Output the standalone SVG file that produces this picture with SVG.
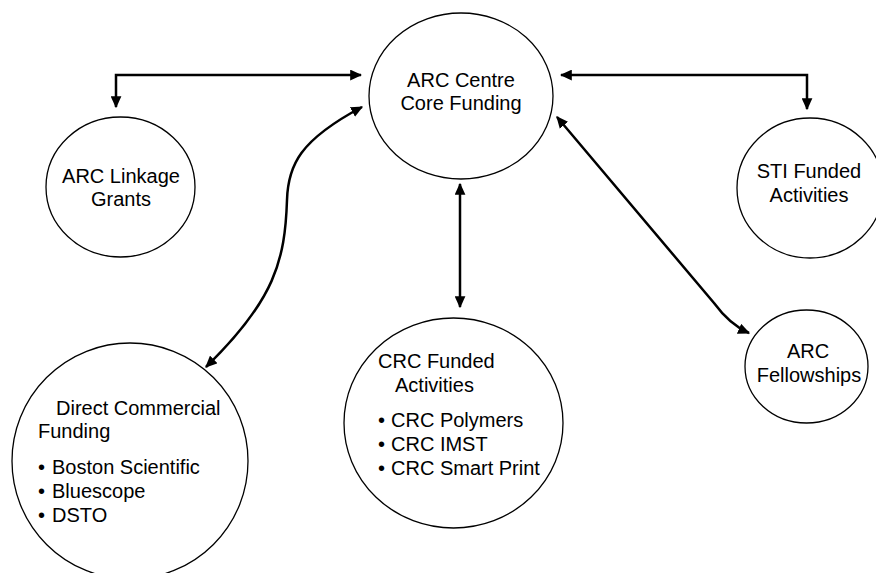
<svg xmlns="http://www.w3.org/2000/svg" width="876" height="573" viewBox="0 0 876 573">
<defs>
<style>
.node ellipse{fill:#fff;stroke:#000;stroke-width:1.3}
text{font-family:"Liberation Sans",Arial,sans-serif;font-size:20px;fill:#000}
.c{text-anchor:middle}
.conn path{fill:none;stroke:#000;stroke-width:2.5;marker-start:url(#ah);marker-end:url(#ah)}
</style>
<marker id="ah" viewBox="0 0 10 9" refX="9" refY="4.5" markerWidth="12" markerHeight="11" markerUnits="userSpaceOnUse" orient="auto-start-reverse">
<path d="M0,0 L10,4.5 L0,9 z" fill="#000"/>
</marker>
</defs>
<rect width="876" height="573" fill="#fff"/>
<g id="connectors" class="conn">
<path d="M361,75 L116,75 L116,107"/>
<path d="M561,75 L807,75 L807,109"/>
<path d="M362,107 C300,140 288,165 287,200 C285,260 275,300 206,367"/>
<path d="M460,184 L460,307"/>
<path d="M557,117 L714,303 C725,318 735,327 749,333"/>
</g>
<g id="arc-centre" class="node">
<ellipse cx="461" cy="96" rx="92" ry="83"/>
<text class="c" x="461" y="87">ARC Centre</text>
<text class="c" x="461" y="110">Core Funding</text>
</g>
<g id="arc-linkage" class="node">
<ellipse cx="120.5" cy="187" rx="74.5" ry="70"/>
<text class="c" x="121" y="183">ARC Linkage</text>
<text class="c" x="121" y="206">Grants</text>
</g>
<g id="sti" class="node">
<ellipse cx="810" cy="188" rx="73" ry="70"/>
<text class="c" x="809" y="178">STI Funded</text>
<text class="c" x="809" y="202">Activities</text>
</g>
<g id="arc-fellowships" class="node">
<ellipse cx="806.5" cy="366.5" rx="61.5" ry="56.5"/>
<text class="c" x="808" y="358">ARC</text>
<text class="c" x="809" y="382">Fellowships</text>
</g>
<g id="direct-commercial" class="node">
<ellipse cx="130" cy="461" rx="118" ry="118"/>
<text x="56" y="415">Direct Commercial</text>
<text x="38" y="438">Funding</text>
<text x="38" y="474">•</text><text x="52" y="474">Boston Scientific</text>
<text x="38" y="498">•</text><text x="52" y="498">Bluescope</text>
<text x="38" y="522">•</text><text x="52" y="522">DSTO</text>
</g>
<g id="crc" class="node">
<ellipse cx="453.5" cy="423" rx="109.5" ry="105"/>
<text x="378" y="368">CRC Funded</text>
<text x="395" y="392">Activities</text>
<text x="378" y="427">•</text><text x="391" y="427">CRC Polymers</text>
<text x="378" y="451">•</text><text x="391" y="451">CRC IMST</text>
<text x="378" y="475">•</text><text x="391" y="475">CRC Smart Print</text>
</g>
</svg>
